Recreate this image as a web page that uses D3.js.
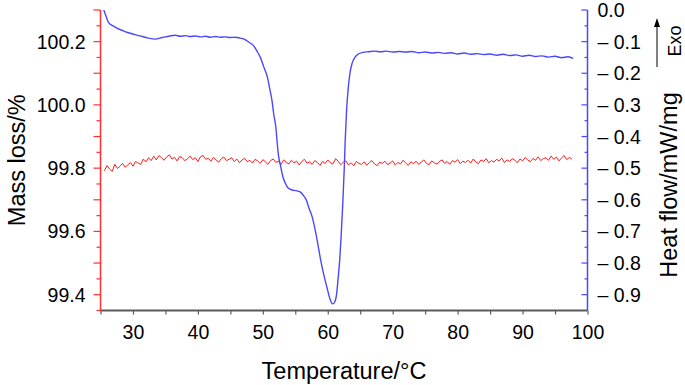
<!DOCTYPE html>
<html><head><meta charset="utf-8">
<script src="https://cdn.jsdelivr.net/npm/d3@7/dist/d3.min.js"></script>
<style>
html,body{margin:0;padding:0;background:#fff;}
svg{display:block;font-family:"Liberation Sans",Arial,Helvetica,sans-serif;}
</style></head>
<body><svg id="chart" width="685" height="385"></svg>
<script>
// ---- data ----
const xTicks = [30, 40, 50, 60, 70, 80, 90, 100];
const massTicks = [99.4, 99.6, 99.8, 100.0, 100.2];
const heatTicks = [0, -0.1, -0.2, -0.3, -0.4, -0.5, -0.6, -0.7, -0.8, -0.9];

// Mass loss (TG) sampled every 0.4 °C starting at 25.6 °C
const massStart = 25.6, massStep = 0.4;
const massValues = [
  99.792,99.808,99.797,99.790,99.812,99.799,99.806,99.815,99.803,99.810,
  99.818,99.806,99.821,99.816,99.812,99.829,99.820,99.833,99.824,99.838,
  99.826,99.840,99.833,99.825,99.836,99.842,99.829,99.834,99.823,99.837,
  99.832,99.824,99.829,99.838,99.827,99.833,99.821,99.836,99.840,99.828,
  99.831,99.822,99.834,99.826,99.819,99.830,99.835,99.824,99.828,99.833,
  99.821,99.829,99.817,99.826,99.831,99.820,99.825,99.816,99.828,99.823,
  99.815,99.827,99.820,99.812,99.824,99.829,99.818,99.822,99.811,99.826,
  99.819,99.813,99.825,99.817,99.822,99.810,99.821,99.828,99.816,99.820,
  99.812,99.824,99.818,99.809,99.821,99.815,99.826,99.817,99.813,99.830,
  99.822,99.811,99.819,99.823,99.810,99.817,99.808,99.821,99.815,99.812,
  99.820,99.809,99.817,99.824,99.813,99.808,99.819,99.815,99.822,99.811,
  99.816,99.823,99.810,99.818,99.813,99.825,99.816,99.809,99.820,99.814,
  99.822,99.812,99.819,99.826,99.815,99.811,99.823,99.817,99.813,99.821,
  99.826,99.815,99.821,99.812,99.824,99.819,99.827,99.814,99.822,99.818,
  99.825,99.816,99.829,99.820,99.814,99.826,99.821,99.830,99.817,99.824,
  99.819,99.828,99.823,99.832,99.818,99.826,99.821,99.830,99.825,99.817,
  99.829,99.823,99.834,99.826,99.820,99.831,99.825,99.836,99.824,99.830,
  99.833,99.825,99.838,99.828,99.835,99.823,99.832,99.840,99.827,99.834,
  99.829
];

// Heat flow (DSC)
const heatTemp = [
  25.5,25.9,26.2,27.0,28.5,31.1,32.4,33.4,34.5,35.7,36.5,37.3,38.1,38.8,39.6,40.4,41.2,41.9,42.7,43.5,44.2,45.0,45.8,46.5,47.1,47.6,48.1,48.5,49.1,49.6,50.2,50.7,51.1,51.4,51.7,52.0,52.2,52.4,52.7,53.1,53.45,53.9,54.5,55.1,55.75,56.2,56.7,57.1,57.6,58.07,58.5,58.9,59.4,59.9,60.3,60.76,61.07,61.38,61.6,61.84,62.07,62.3,62.53,62.69,62.9,63.15,63.45,63.76,64.2,64.7,65.45,66.3,67.2,68.1,69.0,70.0,71.0,72.0,73.0,74.0,75.0,76.0,77.0,78.0,79.0,80.0,81.0,82.0,83.0,84.0,85.0,86.0,87.0,88.0,89.0,90.0,91.0,92.0,93.0,94.0,95.0,96.0,97.0,97.8
];
const heatValues = [
  0.0,-0.022,-0.038,-0.051,-0.066,-0.082,-0.089,-0.092,-0.087,-0.082,-0.080,-0.083,-0.081,-0.084,-0.082,-0.085,-0.083,-0.086,-0.084,-0.086,-0.085,-0.087,-0.086,-0.089,-0.092,-0.098,-0.105,-0.111,-0.130,-0.149,-0.183,-0.212,-0.253,-0.285,-0.332,-0.370,-0.417,-0.458,-0.490,-0.528,-0.547,-0.563,-0.569,-0.571,-0.575,-0.585,-0.601,-0.626,-0.654,-0.696,-0.743,-0.790,-0.838,-0.879,-0.911,-0.929,-0.923,-0.895,-0.847,-0.790,-0.711,-0.617,-0.506,-0.411,-0.316,-0.247,-0.196,-0.168,-0.149,-0.139,-0.134,-0.132,-0.130,-0.132,-0.130,-0.133,-0.131,-0.133,-0.131,-0.135,-0.133,-0.136,-0.134,-0.137,-0.135,-0.139,-0.136,-0.140,-0.138,-0.141,-0.139,-0.143,-0.140,-0.144,-0.142,-0.146,-0.143,-0.147,-0.145,-0.149,-0.146,-0.151,-0.148,-0.153
];

// ---- layout ----
const svg = d3.select("#chart");
const L = 100.5, R = 587.5, T = 10, B = 310.5;
const x = d3.scaleLinear().domain([25, 100]).range([L, R]);
const yM = d3.scaleLinear().domain([99.35, 100.3]).range([B, T]);
const yH = d3.scaleLinear().domain([-0.95, 0]).range([B, T]);

const red = "#ff3030", blue = "#4848ff", gray = "#5a5a5a";
const tickFont = 19.5, titleFont = 23.5;

// clip
svg.append("clipPath").attr("id","clip").append("rect")
  .attr("x", L).attr("y", T).attr("width", R-L).attr("height", B-T);

// X axis
const gx = svg.append("g").attr("transform", `translate(0,${B})`);
const xAxis = d3.axisBottom(x).tickValues(d3.range(25, 100.1, 5)).tickSize(4)
  .tickFormat(d => xTicks.includes(d) ? d : "");
gx.call(xAxis);
gx.select(".domain").attr("stroke", gray).attr("stroke-width", 2).attr("d", `M${L},0H${R}`);
gx.selectAll(".tick line").attr("stroke", gray).attr("stroke-width", 1.2);
gx.selectAll(".tick text").attr("fill","#000").attr("font-size", tickFont)
  .attr("font-family","Liberation Sans, Arial, sans-serif").attr("dy", "1.05em").attr("y", 8);

// Left (mass) axis
const gl = svg.append("g").attr("transform", `translate(${L},0)`);
const massMinor = d3.range(99.35, 100.31, 0.05).map(v => +v.toFixed(2));
gl.append("line").attr("x1",0).attr("x2",0).attr("y1",T).attr("y2",B).attr("stroke", red).attr("stroke-width", 1.5);
gl.selectAll("line.tk").data(massMinor).join("line").attr("class","tk")
  .attr("x1", 0).attr("x2", d => Math.abs(Math.round(d*10) - d*10) < 1e-6 ? -7 : -4)
  .attr("y1", d => yM(d)).attr("y2", d => yM(d)).attr("stroke", red).attr("stroke-width", 1.2);
gl.selectAll("text").data(massTicks).join("text")
  .attr("x", -15).attr("y", d => yM(d)).attr("dy", "0.36em").attr("text-anchor","end")
  .attr("font-size", tickFont).text(d => d.toFixed(1));

// Right (heat) axis
const gr = svg.append("g").attr("transform", `translate(${R},0)`);
const heatMinor = d3.range(0, 19).map(i => -i*0.05);
gr.append("line").attr("x1",0).attr("x2",0).attr("y1",T).attr("y2",B).attr("stroke", blue).attr("stroke-width", 1.5);
gr.selectAll("line.tk").data(heatMinor).join("line").attr("class","tk")
  .attr("x1", 0).attr("x2", (d,i) => i % 2 === 0 ? -6 : -3)
  .attr("y1", d => yH(d)).attr("y2", d => yH(d)).attr("stroke", blue).attr("stroke-width", 1.2);
gr.selectAll("text").data(heatTicks).join("text")
  .attr("x", 10).attr("y", d => yH(d)).attr("dy", "0.36em").attr("text-anchor","start")
  .attr("font-size", tickFont).attr("xml:space","preserve")
  .text(d => d === 0 ? "0.0" : "\u2013 " + Math.abs(d).toFixed(1));

// Lines
const plot = svg.append("g").attr("clip-path","url(#clip)");
const massData = massValues.map((v,i) => [massStart + i*massStep, v]);
plot.append("path").datum(massData)
  .attr("fill","none").attr("stroke", "#ff1a1a").attr("stroke-width", 1)
  .attr("d", d3.line().x(d => x(d[0])).y(d => yM(d[1])));
const heatData = heatTemp.map((t,i) => [t, heatValues[i]]);
plot.append("path").datum(heatData)
  .attr("fill","none").attr("stroke", blue).attr("stroke-width", 1.4)
  .attr("d", d3.line().curve(d3.curveMonotoneX).x(d => x(d[0])).y(d => yH(d[1])));

// Titles
svg.append("text").attr("x", (L+R)/2).attr("y", 379).attr("text-anchor","middle")
  .attr("font-size", titleFont).text("Temperature/\u00B0C");
svg.append("text").attr("transform", `translate(25,${(T+B)/2}) rotate(-90)`).attr("text-anchor","middle")
  .attr("font-size", titleFont).text("Mass loss/%");
svg.append("text").attr("transform", `translate(677,185) rotate(-90)`).attr("text-anchor","middle")
  .attr("font-size", titleFont).text("Heat flow/mW/mg");
svg.append("text").attr("transform", `translate(681,41) rotate(-90)`).attr("text-anchor","middle")
  .attr("font-size", 18).text("Exo");
// Exo arrow
svg.append("line").attr("x1",657).attr("x2",657).attr("y1",67).attr("y2",25).attr("stroke","#000").attr("stroke-width",1);
svg.append("path").attr("d","M657,18 L654,27 L660,27 Z").attr("fill","#000");
</script></body></html>
